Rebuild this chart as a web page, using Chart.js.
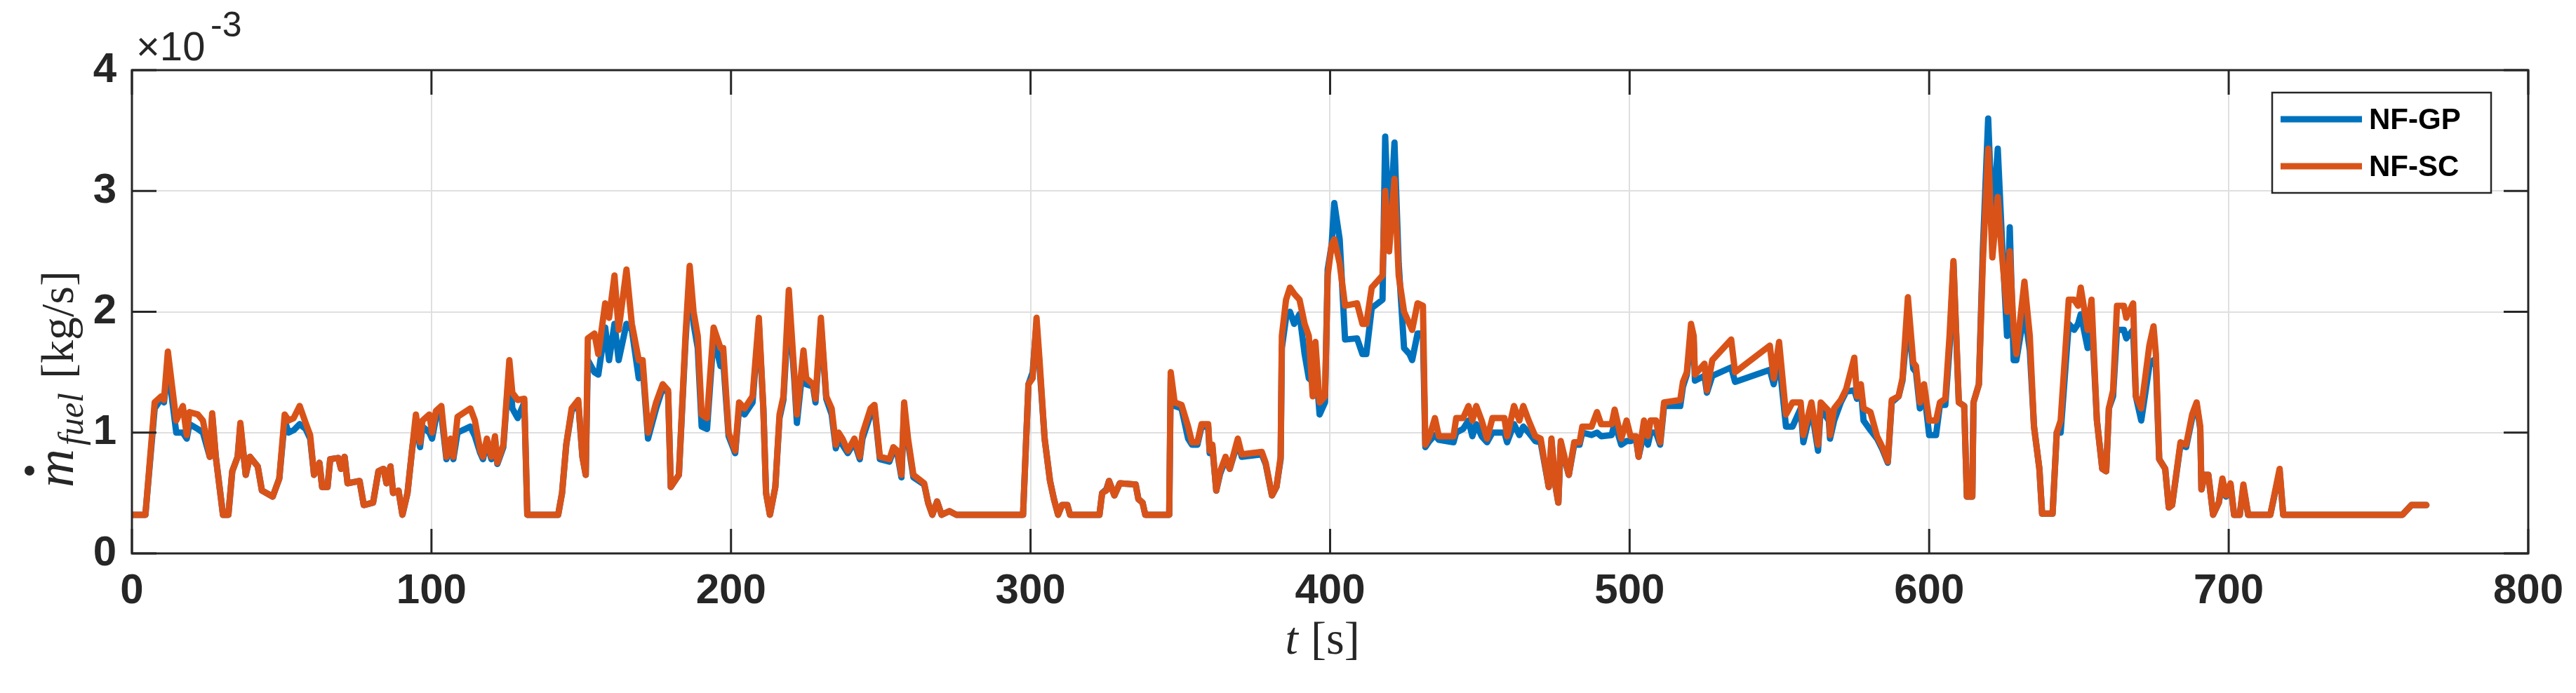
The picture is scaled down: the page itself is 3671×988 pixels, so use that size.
<!DOCTYPE html>
<html>
<head>
<meta charset="utf-8">
<script src="https://cdn.jsdelivr.net/npm/chart.js@4/dist/chart.umd.min.js"></script>
<style>
  html, body { margin: 0; padding: 0; background: #fff; }
  #wrap { width: 3671px; height: 988px; }
</style>
</head>
<body>
<div id="wrap"><canvas id="fuel"></canvas></div>
<script>
// time [s], fuel rate NF-GP and NF-SC [x1e-3 kg/s]
const t = [0,4.5,7.6,9.8,10.7,12,14.8,17,18.3,19.2,22,23.7,26,26.8,28,30.4,32.2,33.5,35.3,36.2,38,39.4,42,43.4,47,49.2,51,52.3,54,56,58,59.5,60.8,62.6,63.5,65.3,66.2,68.9,69.8,71,72,76,77.4,80.5,82.3,84,85,86.3,87.2,89,90.3,92,93.5,94.8,96.2,97,99.3,100.2,101.5,103.3,105,106.4,107.3,108.7,113,114.5,116.3,117.2,118.5,120,121.2,122,124,126,127,128.8,131,132,
  142.3,143.6,145,146.8,149,150.4,151.5,152.2,154.4,155.7,158,159.3,161.1,162.5,165.1,166.9,169.2,170.5,172.3,175,177.2,179,179.9,182.6,184.8,186.2,187.5,188.9,190.2,192,194.2,196.5,197.4,199.2,201.4,202.7,204.5,207.2,209.3,210.8,211.7,213,214.8,216.2,217.5,219.3,221.1,222,224.2,225.1,227.4,228.2,230,231.8,233.6,235,235.9,237.2,239,241.2,243,243.9,246.6,247.9,249.7,252.9,254.2,255.5,256.9,257.8,259.1,260.9,264.5,265.8,267.2,268.8,270.3,272.9,275.2,
  297.5,299.3,300.7,302,303,304.7,306.5,307.8,309.2,310.5,312.3,313.2,323,323.9,325.3,326.2,328,329.8,335.1,336,337.4,338.3,346.3,346.8,348.1,350.4,352.6,353.9,355.7,357.1,359.3,359.8,360.7,362,363.3,365.1,366.5,369.2,370.5,377.2,378.5,380.6,382.1,383.5,383.9,385.3,386.6,388,389.8,391.5,392.9,394.2,395.1,396.5,398.3,399.2,400.5,401.4,403.2,405,409,410.8,412.1,413.9,417.5,418.4,419.7,421.5,422.9,424.7,426.5,427.4,429.2,431,431.8,
  433.2,435,436.3,441.2,442.1,444.4,446.2,447.5,448.8,450.6,452.4,454.2,458.2,459.1,461.4,463.2,464.5,466.3,468.5,470.3,473,473.9,475.3,476.2,477,479.7,481.5,483.3,484.2,487.3,489.1,490.5,494,495,497.2,499,500.3,502.1,503,504.8,506.1,507,508.8,510.2,511.5,516.9,517.8,519.1,520.5,521.4,521.8,525,525.8,527.6,533.9,535.2,
  546.8,548.1,549.9,552.2,554.4,557.1,558,560.7,562.9,563.8,566.5,566.9,568.3,570.5,572.3,575,575.9,577.2,578.1,580.4,582.6,584.4,586.2,587.5,589.8,591.1,592.9,594.7,595.6,596.9,598.3,600,602.3,603.6,605.4,606.8,608.1,609.9,611.7,612.6,614.4,614.8,616.6,617.9,619.7,621.1,622.9,624.2,626,626.9,628.2,629.1,631.8,633.6,635,636.8,637.7,641.2,642.6,643.9,646.6,648.4,649.7,650.6,652.9,654.2,656,657.8,659.1,660,661.4,662.7,665,665.8,668.1,669,670.8,673.5,
  674.9,675.7,676.8,678.8,680,681.1,683.9,685.8,687.8,689.3,690.5,690.9,692,693.2,694.8,696.7,697.9,699.1,700.6,701.8,703.7,704.9,706.5,713.9,717,718.2,758,761,766];

const nfGP = [0.32,0.32,1.2,1.28,1.25,1.55,1.0,1.0,0.95,1.07,1.03,1.0,0.8,1.14,0.8,0.32,0.32,0.68,0.8,1.06,0.65,0.8,0.72,0.52,0.47,0.62,1.1,1.0,1.02,1.07,1.03,0.95,0.65,0.75,0.55,0.55,0.78,0.79,0.7,0.8,0.58,0.6,0.4,0.42,0.68,0.7,0.58,0.72,0.5,0.52,0.32,0.5,0.85,1.1,0.88,1.05,1.0,0.95,1.12,1.15,0.78,0.92,0.78,1.0,1.05,0.97,0.83,0.78,0.92,0.78,0.95,0.74,0.88,1.55,1.2,1.12,1.25,0.32,
  0.32,0.5,0.9,1.18,1.25,0.8,0.65,1.6,1.5,1.48,1.87,1.6,1.9,1.6,1.9,1.85,1.45,1.55,0.95,1.2,1.37,1.33,0.55,0.65,1.75,2.3,1.9,1.7,1.05,1.03,1.8,1.55,1.6,0.97,0.83,1.2,1.15,1.25,1.9,1.2,0.5,0.32,0.55,1.12,1.27,2.05,1.45,1.08,1.6,1.4,1.38,1.25,1.9,1.28,1.15,0.87,0.95,0.9,0.83,0.92,0.78,0.95,1.15,1.2,0.78,0.76,0.85,0.83,0.63,1.2,0.92,0.63,0.57,0.42,0.32,0.43,0.32,0.35,0.32,
  0.32,1.4,1.5,1.9,1.55,0.95,0.6,0.45,0.32,0.4,0.4,0.32,0.32,0.5,0.53,0.6,0.48,0.58,0.57,0.45,0.42,0.32,0.32,1.45,1.22,1.2,0.95,0.9,0.9,1.05,1.05,0.83,0.88,0.52,0.66,0.78,0.7,0.92,0.8,0.82,0.74,0.48,0.55,0.78,1.7,1.95,2.0,1.9,1.98,1.65,1.45,1.42,1.6,1.15,1.25,2.35,2.55,2.9,2.6,1.77,1.78,1.65,1.65,2.03,2.1,3.45,2.6,3.4,2.4,1.7,1.65,1.6,1.82,1.82,0.88,
  0.93,0.98,0.94,0.92,1.0,1.03,1.1,0.97,1.07,0.97,0.92,1.0,1.0,0.92,1.07,0.98,1.05,1.0,0.93,0.92,0.55,0.93,0.55,0.42,0.9,0.65,0.9,0.9,1.0,0.98,1.0,0.97,0.98,1.08,0.9,0.93,0.93,0.95,0.8,1.0,0.9,1.0,1.0,0.9,1.22,1.22,1.38,1.48,1.8,1.75,1.43,1.47,1.33,1.47,1.54,1.42,
  1.52,1.4,1.6,1.05,1.05,1.2,0.92,1.2,0.85,1.2,1.1,0.95,1.1,1.25,1.34,1.35,1.28,1.35,1.1,1.02,0.95,0.86,0.75,1.25,1.3,1.43,1.95,1.53,1.5,1.2,1.35,0.98,0.98,1.23,1.23,1.7,2.4,1.25,1.22,0.47,0.47,1.25,1.4,2.5,3.6,2.7,3.35,2.65,1.8,2.7,1.6,1.6,2.0,1.68,1.05,0.7,0.33,0.33,1.0,1.0,1.9,1.85,1.9,1.98,1.7,1.98,1.1,0.7,0.68,1.2,1.3,1.85,1.85,1.78,1.85,1.3,1.1,1.55,
  1.6,1.55,0.78,0.7,0.38,0.4,0.9,0.88,1.12,1.23,1.03,0.53,0.65,0.65,0.32,0.42,0.6,0.47,0.57,0.32,0.32,0.55,0.32,0.32,0.68,0.32,0.32,0.4,0.4];

const nfSC = [0.32,0.32,1.25,1.3,1.27,1.67,1.1,1.22,0.98,1.17,1.15,1.1,0.8,1.16,0.8,0.32,0.32,0.68,0.8,1.08,0.65,0.8,0.72,0.52,0.47,0.62,1.15,1.1,1.12,1.22,1.08,0.98,0.65,0.75,0.55,0.55,0.78,0.79,0.7,0.8,0.58,0.6,0.4,0.42,0.68,0.7,0.58,0.72,0.5,0.52,0.32,0.5,0.85,1.15,0.92,1.1,1.15,1.0,1.18,1.22,0.8,0.95,0.8,1.13,1.2,1.1,0.85,0.8,0.95,0.8,0.97,0.75,0.9,1.6,1.33,1.27,1.28,0.32,
  0.32,0.5,0.9,1.2,1.27,0.8,0.65,1.78,1.82,1.65,2.07,1.95,2.3,1.85,2.35,1.9,1.6,1.6,1.0,1.25,1.4,1.35,0.55,0.65,1.8,2.38,2.0,1.8,1.15,1.12,1.87,1.7,1.7,1.0,0.85,1.25,1.2,1.3,1.95,1.2,0.5,0.32,0.55,1.15,1.3,2.18,1.5,1.15,1.68,1.45,1.4,1.28,1.95,1.3,1.2,0.9,1.0,0.95,0.85,0.95,0.8,0.99,1.2,1.23,0.8,0.78,0.88,0.85,0.65,1.25,0.95,0.65,0.58,0.42,0.32,0.43,0.32,0.35,0.32,
  0.32,1.4,1.45,1.95,1.6,0.95,0.6,0.45,0.32,0.4,0.4,0.32,0.32,0.5,0.52,0.6,0.48,0.58,0.57,0.45,0.42,0.32,0.32,1.5,1.25,1.23,1.05,0.92,0.92,1.07,1.07,0.85,0.9,0.52,0.68,0.8,0.7,0.95,0.82,0.84,0.75,0.48,0.55,0.8,1.8,2.1,2.2,2.15,2.1,1.9,1.8,1.3,1.75,1.25,1.3,2.3,2.55,2.6,2.4,2.05,2.07,1.9,1.9,2.2,2.3,3.0,2.5,3.1,2.3,2.0,1.9,1.85,2.07,2.05,0.9,
  0.97,1.12,0.97,0.97,1.12,1.12,1.22,1.1,1.22,1.1,0.95,1.12,1.12,0.97,1.22,1.1,1.22,1.1,0.97,0.95,0.55,0.95,0.55,0.42,0.93,0.65,0.92,0.92,1.05,1.05,1.17,1.07,1.07,1.19,0.95,1.1,0.97,0.97,0.8,1.1,0.97,1.1,1.1,0.92,1.25,1.27,1.42,1.5,1.9,1.8,1.48,1.57,1.35,1.6,1.77,1.5,
  1.72,1.45,1.75,1.15,1.25,1.25,0.98,1.25,0.9,1.25,1.18,0.98,1.2,1.27,1.36,1.62,1.3,1.4,1.2,1.17,0.97,0.88,0.76,1.27,1.3,1.45,2.12,1.58,1.55,1.25,1.4,1.1,1.1,1.25,1.28,1.8,2.42,1.25,1.22,0.47,0.47,1.25,1.4,2.4,3.35,2.45,2.95,2.5,2.0,2.5,1.85,1.65,2.25,1.8,1.05,0.7,0.33,0.33,1.0,1.1,2.1,2.1,2.05,2.2,1.85,2.1,1.1,0.7,0.68,1.2,1.35,2.05,2.05,1.95,2.07,1.3,1.2,1.72,
  1.88,1.65,0.78,0.7,0.38,0.4,0.92,0.9,1.15,1.25,1.05,0.53,0.65,0.65,0.32,0.42,0.62,0.48,0.58,0.32,0.32,0.57,0.32,0.32,0.7,0.32,0.32,0.4,0.4];

const xTicks = [0, 100, 200, 300, 400, 500, 600, 700, 800];
const yTicks = [0, 1, 2, 3, 4];

const BLUE = '#0072BD';
const ORANGE = '#D95319';
const AXIS = '#262626';
const PLOT = { left: 188, right: 3608, top: 100, bottom: 789 };
const SANS = '"Liberation Sans", Arial, sans-serif';
const SERIF = '"Liberation Serif", "Times New Roman", serif';

const toPoints = function(ys) {
  return t.map(function(x, i) { return { x: x, y: ys[i] }; });
};

// MATLAB-like frame, inward ticks, labels and legend
const decorPlugin = {
  id: 'decor',
  afterDraw: function(chart) {
    const ctx = chart.ctx;
    const a = chart.chartArea;
    const xs = chart.scales.x, ys = chart.scales.y;
    ctx.save();
    ctx.strokeStyle = AXIS;
    ctx.lineWidth = 3;
    ctx.strokeRect(a.left, a.top, a.right - a.left, a.bottom - a.top);
    ctx.beginPath();
    xTicks.forEach(function(v) {
      const px = xs.getPixelForValue(v);
      ctx.moveTo(px, a.bottom); ctx.lineTo(px, a.bottom - 35);
      ctx.moveTo(px, a.top); ctx.lineTo(px, a.top + 35);
    });
    yTicks.forEach(function(v) {
      const py = ys.getPixelForValue(v);
      ctx.moveTo(a.left, py); ctx.lineTo(a.left + 35, py);
      ctx.moveTo(a.right, py); ctx.lineTo(a.right - 35, py);
    });
    ctx.stroke();

    // exponent label
    ctx.fillStyle = AXIS;
    ctx.textBaseline = 'alphabetic';
    ctx.textAlign = 'left';
    ctx.font = '58px ' + SANS;
    ctx.fillText('\u00d710', 194, 86);
    ctx.font = '50px ' + SANS;
    ctx.fillText('-3', 300, 52);

    // x title
    ctx.font = 'italic 66px ' + SERIF;
    const cx = (a.left + a.right) / 2;
    ctx.fillText('t', cx - 64, 932);
    ctx.font = '66px ' + SERIF;
    ctx.fillText(' [s]', cx - 44, 932);

    // y title, rotated
    ctx.save();
    ctx.translate(104, 445);
    ctx.rotate(-Math.PI / 2);
    ctx.font = 'italic 76px ' + SERIF;
    ctx.fillText('m', -250, 0);
    ctx.beginPath();
    ctx.arc(-226, -62, 7, 0, Math.PI * 2);
    ctx.fill();
    ctx.font = 'italic 50px ' + SERIF;
    ctx.fillText('fuel', -190, 14);
    ctx.font = '66px ' + SERIF;
    ctx.fillText('[kg/s]', -95, 0);
    ctx.restore();

    // legend
    const lx = 3238, ly = 132, lw = 312, lh = 143;
    ctx.fillStyle = '#fff';
    ctx.fillRect(lx, ly, lw, lh);
    ctx.lineWidth = 2.5;
    ctx.strokeStyle = AXIS;
    ctx.strokeRect(lx, ly, lw, lh);
    const items = [['NF-GP', BLUE, ly + 38], ['NF-SC', ORANGE, ly + 105]];
    items.forEach(function(it) {
      ctx.strokeStyle = it[1];
      ctx.lineWidth = 9;
      ctx.beginPath();
      ctx.moveTo(lx + 12, it[2]); ctx.lineTo(lx + 128, it[2]);
      ctx.stroke();
      ctx.fillStyle = '#000';
      ctx.font = 'bold 42px ' + SANS;
      ctx.textBaseline = 'middle';
      ctx.fillText(it[0], lx + 138, it[2] + 2);
    });
    ctx.restore();
  }
};

new Chart(document.getElementById('fuel'), {
  type: 'line',
  data: {
    datasets: [
      { label: 'NF-GP', data: toPoints(nfGP), borderColor: BLUE, order: 2 },
      { label: 'NF-SC', data: toPoints(nfSC), borderColor: ORANGE, order: 1 }
    ]
  },
  options: {
    responsive: true,
    maintainAspectRatio: false,
    animation: false,
    devicePixelRatio: 1,
    elements: {
      point: { radius: 0 },
      line: { borderWidth: 9, tension: 0, borderJoinStyle: 'round', borderCapStyle: 'round' }
    },
    layout: { padding: { left: 0, right: 3671 - PLOT.right, top: PLOT.top, bottom: 0 } },
    plugins: { legend: { display: false }, tooltip: { enabled: false } },
    scales: {
      x: {
        type: 'linear', min: 0, max: 800,
        afterBuildTicks: function(s) { s.ticks = xTicks.map(function(v) { return { value: v }; }); },
        afterFit: function(s) { s.height = 988 - PLOT.bottom; },
        grid: { color: '#dfdfdf', lineWidth: 2, drawTicks: false },
        border: { display: false },
        ticks: { color: AXIS, padding: 18, maxRotation: 0, font: { family: SANS, size: 60, weight: '600' } }
      },
      y: {
        min: 0, max: 4,
        afterBuildTicks: function(s) { s.ticks = yTicks.map(function(v) { return { value: v }; }); },
        afterFit: function(s) { s.width = PLOT.left; },
        grid: { color: '#dfdfdf', lineWidth: 2, drawTicks: false },
        border: { display: false },
        ticks: { color: AXIS, padding: 22, font: { family: SANS, size: 60, weight: '600' } }
      }
    }
  },
  plugins: [decorPlugin]
});
</script>
</body>
</html>
